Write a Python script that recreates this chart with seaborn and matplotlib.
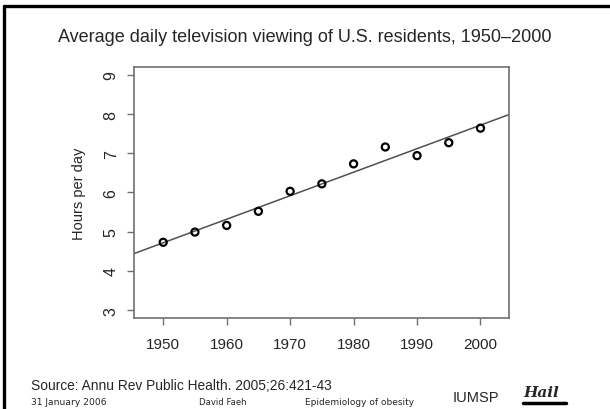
import matplotlib
matplotlib.use("Agg")
import matplotlib.pyplot as plt
from matplotlib.lines import Line2D
import seaborn as sns
import pandas as pd

# Average daily TV viewing (hours per day), U.S. residents
years = [1950, 1955, 1960, 1965, 1970, 1975, 1980, 1985, 1990, 1995, 2000]
hours = [4.73, 4.99, 5.16, 5.52, 6.03, 6.22, 6.73, 7.16, 6.94, 7.27, 7.64]

x_ticks = [1950, 1960, 1970, 1980, 1990, 2000]
y_ticks = [3, 4, 5, 6, 7, 8, 9]

title = "Average daily television viewing of U.S. residents, 1950\u20132000"
y_label = "Hours per day"
source = "Source: Annu Rev Public Health. 2005;26:421-43"
footer_date = "31 January 2006"
footer_author = "David Faeh"
footer_topic = "Epidemiology of obesity"
footer_inst = "IUMSP"

df = pd.DataFrame({"year": years, "hours": hours})

sns.set_style("white")
plt.rcParams["font.family"] = ["Liberation Sans", "DejaVu Sans"]

fig = plt.figure(figsize=(6.1, 4.1), dpi=100)
ax = fig.add_axes([0.2197, 0.2220, 0.6148, 0.6122])
ax.set_xlim(1945.4, 2004.5)
ax.set_ylim(2.8, 9.2)

sns.regplot(
    data=df, x="year", y="hours", ax=ax, ci=None, truncate=False,
    scatter_kws={"color": "black", "facecolors": "none", "linewidths": 1.6,
                 "s": 26, "alpha": 1, "zorder": 3},
    line_kws={"color": "#505050", "lw": 1.1},
)

ax.set_xticks(x_ticks)
ax.set_xticklabels([str(v) for v in x_ticks], fontsize=11)
ax.set_yticks(y_ticks)
ax.set_yticklabels([str(v) for v in y_ticks], fontsize=11.5, rotation=90, va="center")
ax.set_xlabel("")
ax.set_ylabel(y_label, fontsize=10.5, labelpad=13)

ax.tick_params(axis="both", direction="out", length=5, width=1, color="#707070",
               bottom=True, left=True)
ax.tick_params(axis="x", pad=9)
ax.tick_params(axis="y", pad=6)
for sp in ax.spines.values():
    sp.set_visible(True)
    sp.set_color("#707070")
    sp.set_linewidth(1.2)

# slide frame (top and left edges)
fig.add_artist(Line2D([0.006, 1.0], [0.983, 0.983], color="black", lw=2.4,
                      transform=fig.transFigure))
fig.add_artist(Line2D([0.006, 0.006], [0.0, 0.983], color="black", lw=2.4,
                      transform=fig.transFigure))

fig.text(305 / 610, 1 - 37 / 410, title, ha="center", va="center", fontsize=13)
fig.text(31 / 610, 1 - 386 / 410, source, ha="left", va="center", fontsize=9.9)
fig.text(31 / 610, 1 - 403 / 410, footer_date, ha="left", va="center",
         fontsize=6.6, family="DejaVu Sans")
fig.text(199 / 610, 1 - 403 / 410, footer_author, ha="left", va="center",
         fontsize=6.1, family="DejaVu Sans")
fig.text(305 / 610, 1 - 403 / 410, footer_topic, ha="left", va="center",
         fontsize=6.5, family="DejaVu Sans")
fig.text(453 / 610, 1 - 398 / 410, footer_inst, ha="left", va="center",
         fontsize=10.5)
fig.text(523 / 610, 1 - 393 / 410, "Hail", ha="left", va="center",
         fontsize=11, family="DejaVu Serif", style="italic", weight="bold")
fig.add_artist(Line2D([523 / 610, 566 / 610], [1 - 404 / 410, 1 - 404 / 410],
                      color="black", lw=2.5, transform=fig.transFigure))

fig.savefig("out.png", dpi=100)
